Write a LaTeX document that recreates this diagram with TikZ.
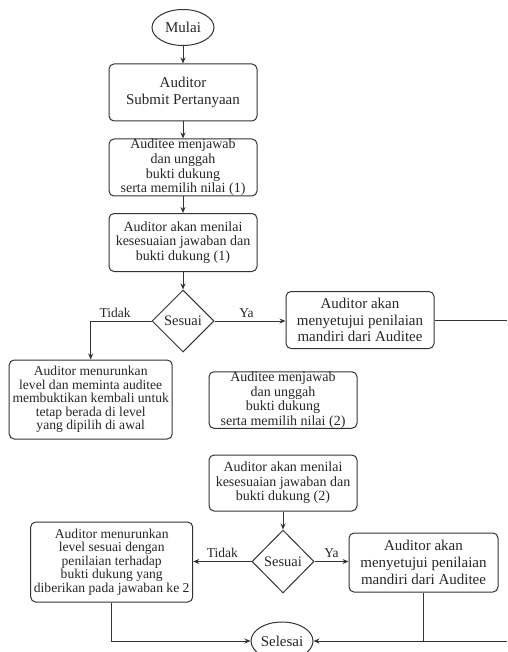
\documentclass[tikz,border=0pt]{standalone}
\usepackage{fontspec}
\setmainfont{Liberation Serif}
\usetikzlibrary{shapes.geometric, arrows.meta}
\begin{document}
\begin{tikzpicture}[>={Stealth[length=6pt,width=5pt]}, x=1pt, y=-1pt,
  every node/.style={text=black!85},
  box/.style={draw=black!80, line width=1pt, rounded corners=5pt, align=center, inner sep=0pt},
  big/.style={font=\fontsize{15}{16.7}\selectfont},
  mid/.style={font=\fontsize{14}{14.6}\selectfont},
  small/.style={font=\fontsize{13.6}{13.6}\selectfont},
  term/.style={draw=black!80, line width=1pt, ellipse, inner sep=0pt, font=\fontsize{15}{16}\selectfont},
  decide/.style={draw=black!80, line width=1pt, diamond, inner sep=0pt, minimum width=62pt, minimum height=62pt, font=\fontsize{14.5}{15}\selectfont},
  lbl/.style={font=\fontsize{13.5}{14}\selectfont},
  link/.style={draw=black!80, line width=1pt}]
\useasboundingbox (0,0) rectangle (507,652);
\node[term, minimum width=62pt, minimum height=36pt] (mulai) at (183,27.5) {Mulai};
\node[box, big, minimum width=148pt, minimum height=57pt] (a) at (183,92.5) {Auditor\\Submit Pertanyaan};
\node[box, mid, minimum width=148pt, minimum height=57pt] (b) at (183,167.5) {Auditee menjawab\\dan unggah\\bukti dukung\\serta memilih nilai (1)};
\node[box, mid, minimum width=148pt, minimum height=58pt] (c) at (183,242.5) {Auditor akan menilai\\kesesuaian jawaban dan\\bukti dukung (1)};
\node[decide] (d) at (183,321) {Sesuai};
\node[box, big, minimum width=148pt, minimum height=57pt] (e) at (360,320) {Auditor akan\\menyetujui penilaian\\mandiri dari Auditee};
\node[box, small, minimum width=163pt, minimum height=79pt] (f) at (90.7,399.5) {Auditor menurunkan\\level dan meminta auditee\\membuktikan kembali untuk\\tetap berada di level\\yang dipilih di awal};
\node[box, mid, minimum width=148pt, minimum height=56pt] (g) at (283,400) {Auditee menjawab\\dan unggah\\bukti dukung\\serta memilih nilai (2)};
\node[box, mid, minimum width=148pt, minimum height=56pt] (h) at (283,483) {Auditor akan menilai\\kesesuaian jawaban dan\\bukti dukung (2)};
\node[decide, minimum height=63pt] (i) at (283,561.5) {Sesuai};
\node[box, small, minimum width=162pt, minimum height=80pt] (j) at (111.7,562) {Auditor menurunkan\\level sesuai dengan\\penilaian terhadap\\bukti dukung yang\\diberikan pada jawaban ke 2};
\node[box, big, minimum width=149pt, minimum height=59pt] (k) at (423.5,562.5) {Auditor akan\\menyetujui penilaian\\mandiri dari Auditee};
\node[term, minimum width=62pt, minimum height=38pt] (selesai) at (282,641) {Selesai};
\coordinate (r1) at (507,320);
\coordinate (r2) at (507,641);
\draw[link, ->] (mulai) -- (a);
\draw[link, ->] (a) -- (b);
\draw[link, ->] (b) -- (c);
\draw[link, ->] (c) -- (d);
\draw[link, ->] (d) -- node[lbl, above, pos=0.45] {Ya} (e.west |- d);
\draw[link, ->] (d.west) -- node[lbl, above, pos=0.6] {Tidak} (f.north |- d.west) -- (f.north);
\draw[link] (e.east) -- (r1);
\draw[link, ->] (h) -- (i);
\draw[link, ->] (i.east) -- node[lbl, above] {Ya} (k.west |- i.east);
\draw[link, ->] (i.west) -- node[lbl, above] {Tidak} (j.east |- i.west);
\draw[link, ->] (j.south) |- (selesai.west);
\draw[link, ->] (r2) -- (selesai.east);
\draw[link] (k.south) -- (k.south |- selesai.east);
\end{tikzpicture}
\end{document}
